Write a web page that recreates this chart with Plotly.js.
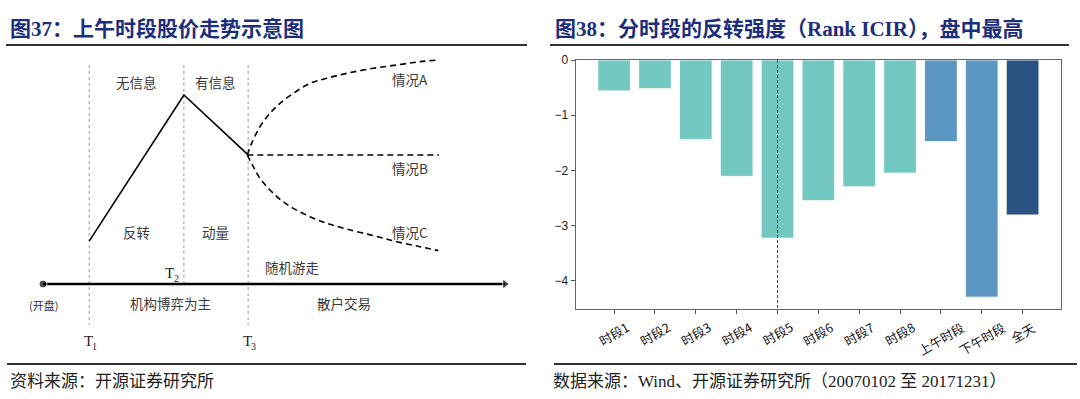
<!DOCTYPE html>
<html><head><meta charset="utf-8">
<script src="https://cdn.plot.ly/plotly-3.0.1.min.js"></script>
<style>html,body{margin:0;padding:0;background:#fff}#chart{width:1080px;height:399px}</style>
</head><body><div id="chart"></div>
<script>
// ===== 图38 data =====
const categories = ['时段1','时段2','时段3','时段4','时段5','时段6','时段7','时段8','上午时段','下午时段','全天'];
const rankICIR   = [-0.56, -0.52, -1.44, -2.11, -3.23, -2.55, -2.30, -2.05, -1.48, -4.30, -2.81];
const barGroups  = ['seg','seg','seg','seg','seg','seg','seg','seg','half','half','day'];
const yTickVals  = [0, -1, -2, -3, -4];
const highlightCategory = '时段5';

// ===== 图37 schematic data (t = time, p = price, schematic units) =====
const pathT = [10, 30.5, 44.4];
const pathP = [22.7, 100, 68.3];
const caseAT = [44.23, 45.16, 46.97, 49.13, 51.30, 54.18, 57.79, 61.40, 65.73, 71.50, 76.55, 81.60, 85.57];
const caseAP = [68.25, 74.43, 83.25, 90.30, 95.59, 100.88, 106.17, 108.82, 111.46, 114.11, 115.87, 117.64, 118.52];
const caseBT = [44.23, 85.7];
const caseBP = [68.25, 68.25];
const caseCT = [44.23, 45.52, 46.97, 49.13, 51.30, 54.18, 57.79, 61.40, 65.73, 71.50, 76.55, 81.60, 85.57];
const caseCP = [68.25, 62.08, 55.91, 49.74, 44.80, 40.04, 35.63, 32.10, 29.10, 25.57, 22.40, 19.75, 17.64];
const timeAxisT = [0, 100];
const timeAxisP = [0, 0];
const phaseTimes   = [10, 30.5, 44.4];      // T1, T2, T3
const phaseTops    = [115.9, 115.9, 115.9];
const phaseBottoms = [-21.7, 0, -21.7];
const labelTexts = ['无信息','有信息','反转','动量','情况A','情况B','情况C','随机游走','(开盘)','机构博弈为主','散户交易'];
const labelT     = [20.3, 37.4, 20.3, 37.4, 79.4, 79.4, 79.4, 54.1, 0, 27.5, 65.2];
const labelP     = [106.9, 106.9, 27.5, 27.5, 108.5, 61.4, 27.5, 9.0, -11.1, -10.1, -10.1];
const phaseLetter = ['T', 'T', 'T'];
const phaseIndex  = ['1', '2', '3'];
const phaseLabelT = [10.2, 27.9, 44.6];
const phaseLabelP = [-30.2, 5.8, -30.2];

// ===== styling =====
const W = 1080, H = 399;
const px = v => v / W;
const py = v => (H - v) / H;
const groupColor = {seg: '#74C8C2', half: '#5B97C2', day: '#2A5384'};
const CJK = 'Noto Sans CJK SC';
const TITLE_FONT = {family: 'Liberation Serif, Noto Sans CJK SC', size: 21, color: '#1d2f7c', weight: 'bold'};
const FOOT_FONT = {family: 'Liberation Serif, Noto Sans CJK SC', size: 17, color: '#222'};
const LABEL_FONT = {family: CJK, size: 13.5, color: '#3a3a3a'};

// vertical phase lines with gaps
const vx = [], vy = [];
phaseTimes.forEach((t, i) => { vx.push(t, t, null); vy.push(phaseTops[i], phaseBottoms[i], null); });

const traces = [
  {type: 'bar', x: categories, y: rankICIR, width: 0.8,
   marker: {color: barGroups.map(g => groupColor[g]), line: {color: 'rgba(255,255,255,0.85)', width: 1}},
   xaxis: 'x', yaxis: 'y', hoverinfo: 'skip'},
  {type: 'scatter', mode: 'lines', x: [highlightCategory, highlightCategory], y: [0, -4.515],
   line: {color: '#2c4a7c', width: 1, dash: '3px,2px'}, xaxis: 'x', yaxis: 'y', hoverinfo: 'skip'},
  // schematic
  {type: 'scatter', mode: 'lines', x: vx, y: vy, line: {color: '#9a9a9a', width: 1, dash: 'dot'},
   xaxis: 'x2', yaxis: 'y2', hoverinfo: 'skip'},
  {type: 'scatter', mode: 'lines+markers', x: timeAxisT, y: timeAxisP,
   line: {color: '#000', width: 2.5},
   marker: {symbol: ['circle', 'triangle-right'], size: [8, 9], color: '#000'},
   xaxis: 'x2', yaxis: 'y2', hoverinfo: 'skip'},
  {type: 'scatter', mode: 'lines', x: pathT, y: pathP, line: {color: '#000', width: 1.6},
   xaxis: 'x2', yaxis: 'y2', hoverinfo: 'skip'},
  {type: 'scatter', mode: 'lines', x: caseAT, y: caseAP, line: {color: '#000', width: 1.6, dash: '6px,4px', shape: 'spline'},
   xaxis: 'x2', yaxis: 'y2', hoverinfo: 'skip'},
  {type: 'scatter', mode: 'lines', x: caseBT, y: caseBP, line: {color: '#000', width: 1.6, dash: '6px,4px'},
   xaxis: 'x2', yaxis: 'y2', hoverinfo: 'skip'},
  {type: 'scatter', mode: 'lines', x: caseCT, y: caseCP, line: {color: '#000', width: 1.6, dash: '6px,4px', shape: 'spline'},
   xaxis: 'x2', yaxis: 'y2', hoverinfo: 'skip'}
];

const annotations = [];
// titles
annotations.push({text: '图37：上午时段股价走势示意图', x: px(8), y: py(29), xref: 'paper', yref: 'paper',
  xanchor: 'left', yanchor: 'middle', showarrow: false, font: TITLE_FONT});
annotations.push({text: '图38：分时段的反转强度（Rank ICIR），盘中最高', x: px(553), y: py(29), xref: 'paper', yref: 'paper',
  xanchor: 'left', yanchor: 'middle', showarrow: false, font: TITLE_FONT});
// footers
annotations.push({text: '资料来源：开源证券研究所', x: px(8), y: py(381), xref: 'paper', yref: 'paper',
  xanchor: 'left', yanchor: 'middle', showarrow: false, font: FOOT_FONT});
annotations.push({text: '数据来源：Wind、开源证券研究所（20070102 至 20171231）', x: px(551), y: py(381), xref: 'paper', yref: 'paper',
  xanchor: 'left', yanchor: 'middle', showarrow: false, font: FOOT_FONT});
// rotated category labels
categories.forEach(c => annotations.push({text: c, x: c, xref: 'x', y: py(315), yref: 'paper',
  xanchor: 'center', yanchor: 'top', textangle: -30, showarrow: false,
  font: {family: CJK, size: 12.5, color: '#111'}}));
// schematic labels
labelTexts.forEach((t, i) => annotations.push({text: t, x: labelT[i], y: labelP[i], xref: 'x2', yref: 'y2',
  showarrow: false, xanchor: 'center', yanchor: 'middle',
  font: t === '(开盘)' ? {family: CJK, size: 11, color: '#333'} : LABEL_FONT}));
phaseLetter.forEach((t, i) => {
  annotations.push({text: t, x: phaseLabelT[i], y: phaseLabelP[i], xref: 'x2', yref: 'y2',
    showarrow: false, xanchor: 'center', yanchor: 'middle', xshift: -2,
    font: {family: 'Liberation Serif', size: 15, color: '#222'}});
  annotations.push({text: phaseIndex[i], x: phaseLabelT[i], y: phaseLabelP[i], xref: 'x2', yref: 'y2',
    showarrow: false, xanchor: 'left', yanchor: 'middle', xshift: 0, yshift: -5,
    font: {family: 'Liberation Serif', size: 10, color: '#222'}});
});

const shapes = [
  {type: 'line', xref: 'paper', yref: 'paper', x0: px(6), x1: px(527), y0: py(45), y1: py(45), line: {color: '#333', width: 2}},
  {type: 'line', xref: 'paper', yref: 'paper', x0: px(550), x1: px(1069), y0: py(45), y1: py(45), line: {color: '#333', width: 2}},
  {type: 'line', xref: 'paper', yref: 'paper', x0: px(7), x1: px(526), y0: py(364), y1: py(364), line: {color: '#333', width: 2}},
  {type: 'line', xref: 'paper', yref: 'paper', x0: px(554), x1: px(1077), y0: py(364), y1: py(364), line: {color: '#333', width: 2}}
];

const layout = {
  width: W, height: H,
  margin: {l: 0, r: 0, t: 0, b: 0},
  paper_bgcolor: '#fff', plot_bgcolor: 'rgba(0,0,0,0)',
  showlegend: false,
  xaxis: {domain: [px(575.7), px(1061)], type: 'category', range: [-0.94, 10.94], anchor: 'y',
    showticklabels: false, ticks: 'outside', ticklen: 4, tickcolor: '#555', tickwidth: 1,
    showline: true, linecolor: '#666', linewidth: 1.2, mirror: true, showgrid: false, zeroline: false, fixedrange: true},
  yaxis: {domain: [py(309), py(60)], range: [-4.515, 0], anchor: 'x', tickvals: yTickVals,
    ticks: 'outside', ticklen: 4, tickcolor: '#555', tickwidth: 1,
    tickfont: {family: 'Liberation Sans, Arial', size: 12, color: '#222'},
    showline: true, linecolor: '#666', linewidth: 1.2, mirror: true, showgrid: false, zeroline: false, fixedrange: true},
  xaxis2: {domain: [0, 0.5], range: [-9.307, 107.58], anchor: 'y2', visible: false, fixedrange: true},
  yaxis2: {domain: [0, 1], range: [-60.85, 150.26], anchor: 'x2', visible: false, fixedrange: true},
  annotations, shapes
};

Plotly.newPlot('chart', traces, layout, {displayModeBar: false, staticPlot: true});
</script></body></html>
